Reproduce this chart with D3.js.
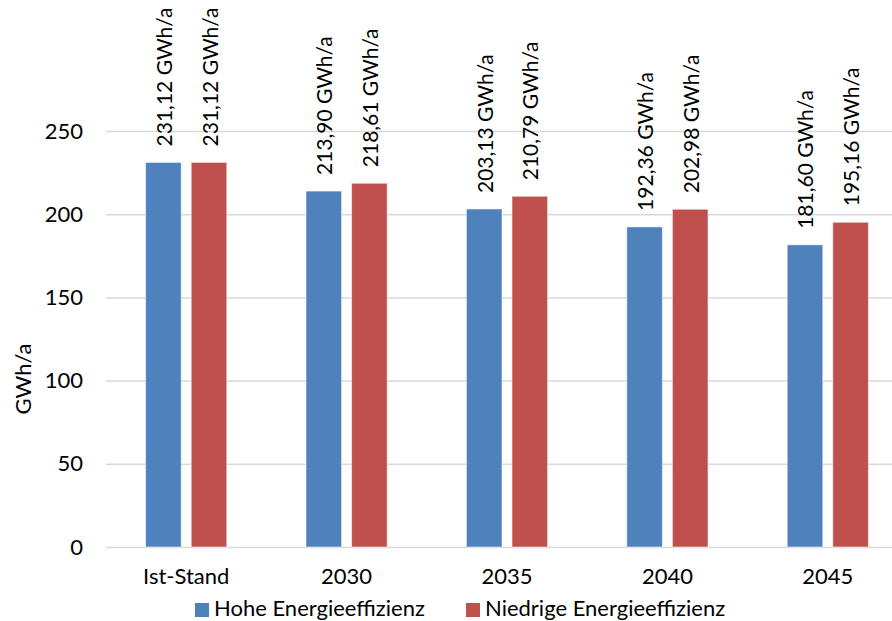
<!DOCTYPE html>
<html>
<head>
<meta charset="utf-8">
<script src="https://cdn.jsdelivr.net/npm/d3@7/dist/d3.min.js"></script>
<style>
  html, body { margin: 0; padding: 0; background: #fff; }
  svg { display: block; font-family: Lato, "Open Sans", sans-serif; }
</style>
</head>
<body>
<svg id="chart" width="892" height="621"></svg>
<script>
// Endenergiebedarf nach Szenario
const categories = ["Ist-Stand", "2030", "2035", "2040", "2045"];
const seriesNames = ["Hohe Energieeffizienz", "Niedrige Energieeffizienz"];
const hoheValues = [231.12, 213.90, 203.13, 192.36, 181.60];
const niedrigeValues = [231.12, 218.61, 210.79, 202.98, 195.16];
const yTicks = [0, 50, 100, 150, 200, 250];
const seriesColors = ["#4F81BD", "#C0504D"];
const yTitle = "GWh/a";
const FS = 22;

const svg = d3.select("#chart");
const plot = { left: 106, right: 908, top: 131, bottom: 547 };

const x0 = d3.scaleBand().domain(categories).range([plot.left, plot.right]).padding(0);
const x1 = d3.scaleBand().domain(seriesNames).range([0, x0.bandwidth()])
  .paddingInner(0.219).paddingOuter(0.868);
const y = d3.scaleLinear().domain([0, 250]).range([plot.bottom, plot.top]);

const fmt = v => d3.format(".2f")(v).replace(".", ",") + " GWh/a";

// Y axis with gridlines
const yAxis = svg.append("g")
  .attr("transform", `translate(${plot.left},0)`)
  .call(d3.axisLeft(y).tickValues(yTicks).tickSize(-(plot.right - plot.left)).tickPadding(23).tickFormat(d3.format("d")));
yAxis.select(".domain").remove();
yAxis.selectAll(".tick line").attr("stroke", "#d9d9d9").attr("stroke-width", 1.5);
yAxis.selectAll(".tick text").attr("font-size", FS).attr("fill", "#000")
  .attr("font-family", "Lato, 'Open Sans', sans-serif");

// Y axis title
svg.append("text")
  .attr("transform", `translate(22,${(plot.top + plot.bottom) / 2 + 40}) rotate(-90)`)
  .attr("text-anchor", "middle")
  .attr("dominant-baseline", "central")
  .attr("font-size", FS)
  .text(yTitle);

// Bars
const rows = categories.map((c, i) => ({ cat: c, vals: [hoheValues[i], niedrigeValues[i]] }));
const groups = svg.append("g").selectAll("g").data(rows).join("g")
  .attr("transform", d => `translate(${x0(d.cat)},0)`);

groups.selectAll("rect")
  .data(d => d.vals.map((v, j) => ({ name: seriesNames[j], v, j })))
  .join("rect")
  .attr("x", d => x1(d.name))
  .attr("y", d => y(d.v))
  .attr("width", x1.bandwidth())
  .attr("height", d => y(0) - y(d.v))
  .attr("fill", d => seriesColors[d.j])
  .attr("stroke", "rgba(255,255,255,0.55)")
  .attr("stroke-width", 1);

// Value labels (rotated)
groups.selectAll("text.val")
  .data(d => d.vals.map((v, j) => ({ name: seriesNames[j], v, j })))
  .join("text")
  .attr("class", "val")
  .attr("transform", d => `translate(${x1(d.name) + x1.bandwidth() / 2},${y(d.v) - 16}) rotate(-90)`)
  .attr("text-anchor", "start")
  .attr("dominant-baseline", "central")
  .attr("font-size", 21)
  .attr("fill", "#000")
  .text(d => fmt(d.v));

// X axis labels
const xAxis = svg.append("g")
  .attr("transform", `translate(0,${plot.bottom})`)
  .call(d3.axisBottom(x0).tickSize(0).tickPadding(21));
xAxis.select(".domain").remove();
xAxis.selectAll(".tick text").attr("font-size", FS).attr("fill", "#000")
  .attr("font-family", "Lato, 'Open Sans', sans-serif");

// Legend
const legendItems = [
  { name: seriesNames[0], color: seriesColors[0], x: 195 },
  { name: seriesNames[1], color: seriesColors[1], x: 466 }
];
const legend = svg.append("g").selectAll("g").data(legendItems).join("g")
  .attr("transform", d => `translate(${d.x},603)`);
legend.append("rect").attr("width", 14).attr("height", 14).attr("fill", d => d.color);
legend.append("text")
  .attr("x", 19).attr("y", 13)
  .attr("font-size", FS)
  .text(d => d.name);
</script>
</body>
</html>
